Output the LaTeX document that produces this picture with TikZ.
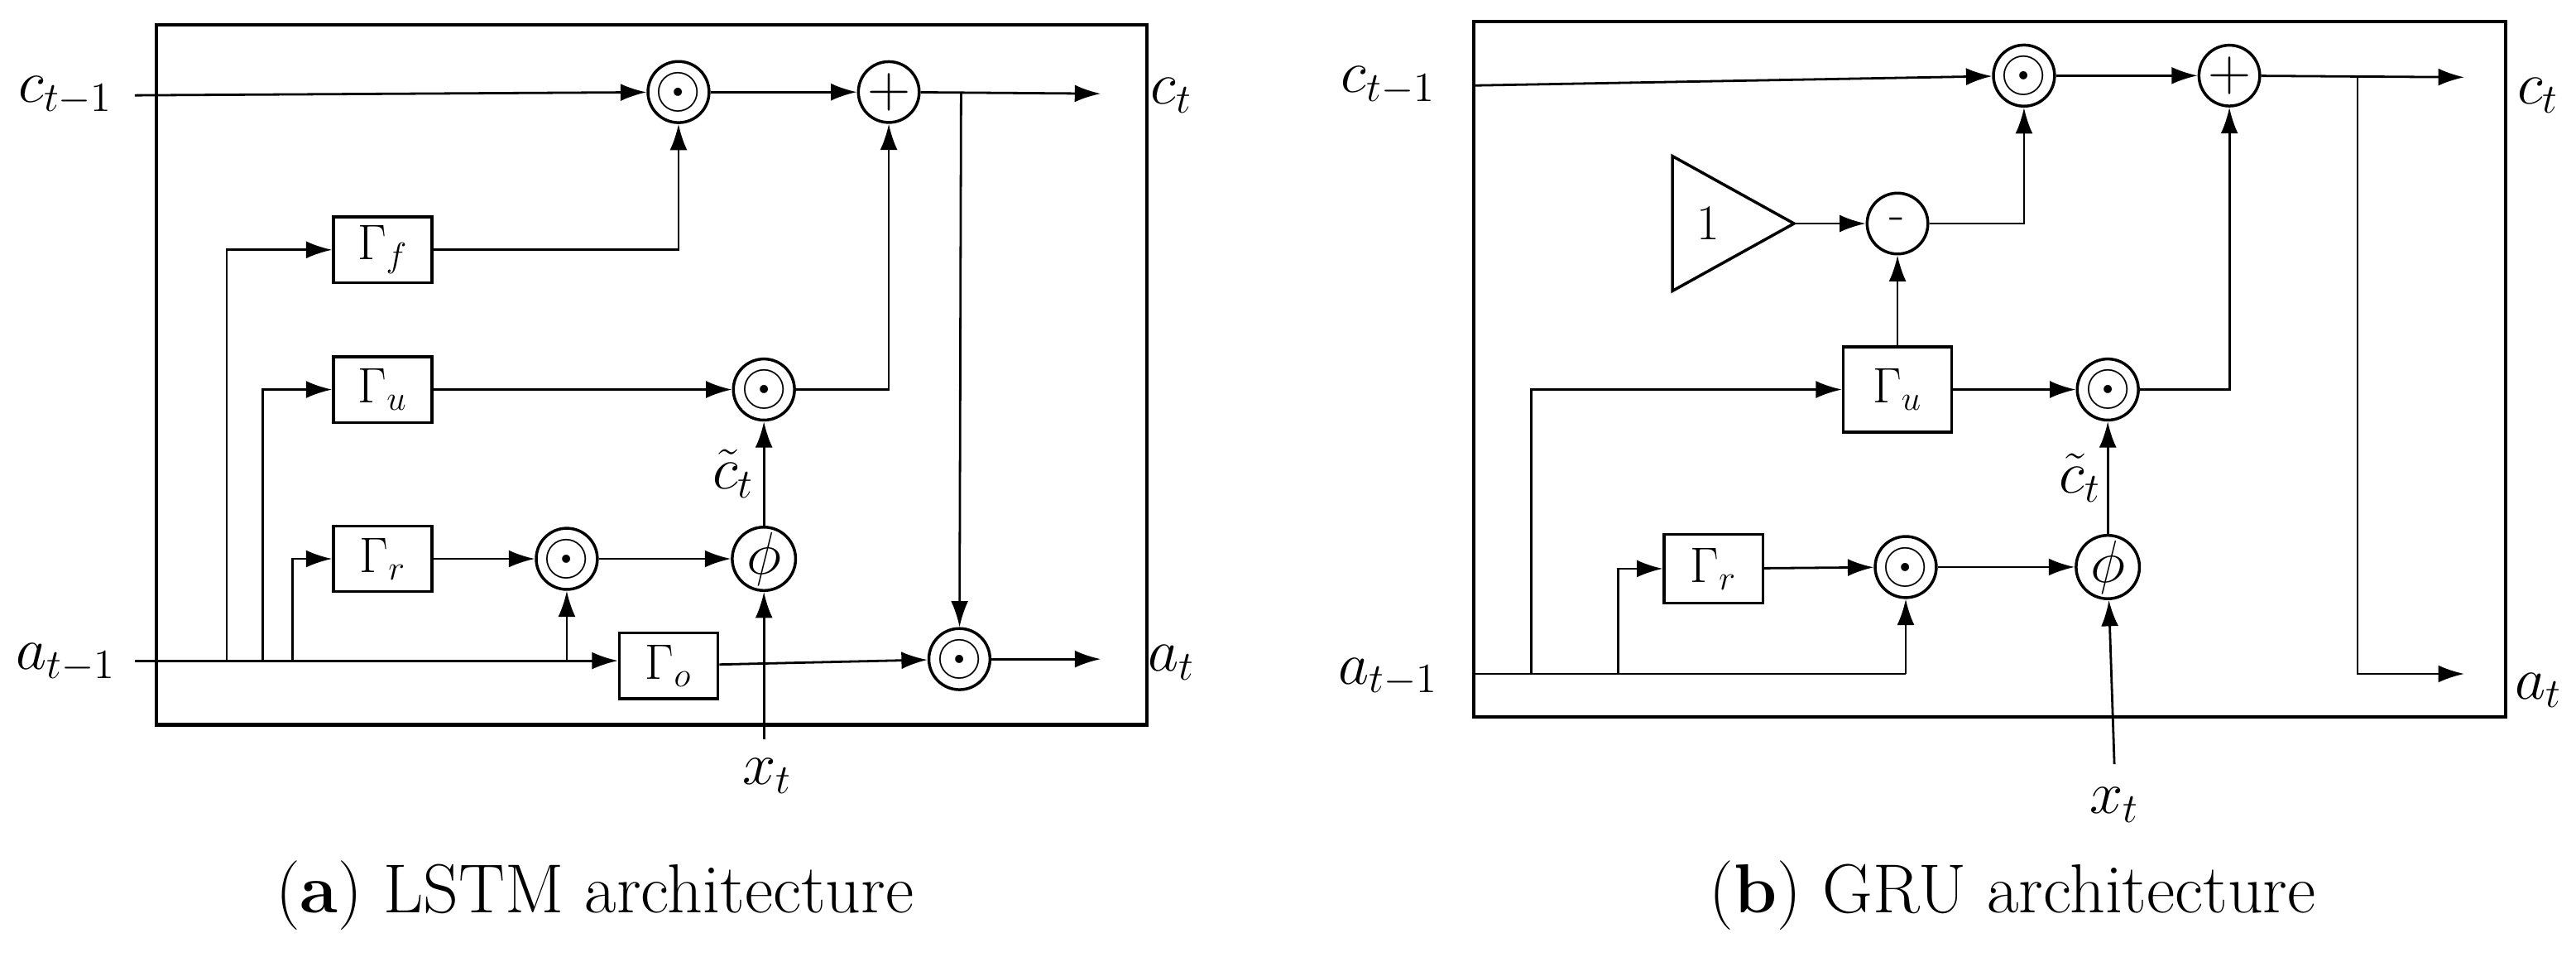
\documentclass[tikz,border=0pt]{standalone}
\usetikzlibrary{arrows.meta,shapes.geometric}
\begin{document}
\begin{tikzpicture}[x=0.02cm,y=-0.02cm,
  op/.style={circle,draw,line width=1pt,minimum size=37*0.02cm,inner sep=0pt,font=\huge},
  gate/.style={rectangle,draw,line width=1pt,minimum width=60*0.02cm,minimum height=40*0.02cm,inner sep=0pt,font=\LARGE},
  lab/.style={font=\huge},
  ln/.style={line width=0.8pt},
  ar/.style={line width=0.8pt,-{Latex[length=9pt,width=6pt]}},
  capt/.style={font=\fontsize{24}{28}\selectfont}]
\useasboundingbox (0,0) rectangle (1568,582);
% ---------- LSTM ----------
\draw[line width=1.2pt] (95,15) rectangle (698,441);
\node[lab] (lc0) at (40,58) {$c_{t-1}$};
\node[lab] (lc1) at (713,58) {$c_t$};
\node[lab] (la0) at (40,403) {$a_{t-1}$};
\node[lab] (la1) at (713,403) {$a_t$};
\node[lab] (lx) at (467,472) {$x_t$};
\node[op] (m1) at (413,56) {$\odot$};
\node[op] (p1) at (541,56) {$+$};
\node[op] (m2) at (465,237) {$\odot$};
\node[op] (m3) at (345,340) {$\odot$};
\node[op] (ph) at (465,340) {$\phi$};
\node[op] (m4) at (584,401) {$\odot$};
\node[gate] (gf) at (233,152) {$\Gamma_f$};
\node[gate] (gu) at (233,237) {$\Gamma_u$};
\node[gate] (gr) at (233,340) {$\Gamma_r$};
\node[gate] (go) at (407,405) {$\Gamma_o$};
\coordinate (ca) at (82,58);
\coordinate (cb) at (670,57);
\coordinate (aa) at (82,402);
\coordinate (ab) at (670,401);
\coordinate (xb) at (465,450);
\draw[ar] (ca) -- (m1);
\draw[ar] (m1) -- (p1);
\draw[ar] (p1) -- (cb);
\draw[ar] (585,56) -- (m4);
\draw[ln] (aa) -- (345,402);
\draw[ar] (345,402) -- (go.west|-345,402);
\draw[ar] (go) -- (m4);
\draw[ar] (m4) -- (ab);
\draw[ar] (138,402) |- (gf);
\draw[ar] (160,402) |- (gu);
\draw[ar] (178,402) |- (gr);
\draw[ar] (gf) -| (m1);
\draw[ar] (gu) -- (m2);
\draw[ar] (m2) -| (p1);
\draw[ar] (gr) -- (m3);
\draw[ar] (m3) -- (ph);
\draw[ar] (345,402) -- (m3);
\draw[ar] (ph) -- node[left,font=\huge,inner sep=3pt]{$\tilde c_t$} (m2);
\draw[ar] (xb) -- (ph);
\node[capt] at (362,545) {(\textbf{a}) LSTM architecture};
% ---------- GRU ----------
\draw[line width=1.2pt] (897,13) rectangle (1525,436);
\node[lab] (gc0) at (845,52) {$c_{t-1}$};
\node[lab] (gc1) at (1545,58) {$c_t$};
\node[lab] (ga0) at (845,412) {$a_{t-1}$};
\node[lab] (ga1) at (1545,420) {$a_t$};
\node[lab] (gx) at (1287,490) {$x_t$};
\node[op] (n1) at (1232,46) {$\odot$};
\node[op] (q1) at (1357,46) {$+$};
\node[op,font=\LARGE] (mi) at (1155,136) {-};
\node[op] (n2) at (1283,237) {$\odot$};
\node[op] (n3) at (1160,345) {$\odot$};
\node[op] (gph) at (1283,345) {$\phi$};
\node[gate,minimum width=66*0.02cm,minimum height=52*0.02cm] (hu) at (1155,237) {$\Gamma_u$};
\node[gate,minimum height=42*0.02cm] (hr) at (1043,346) {$\Gamma_r$};
\draw[line width=1pt] (1018,95) -- (1018,177) -- (1092,136) -- cycle;
\node[font=\LARGE] (one) at (1040,136) {1};
\coordinate (gca) at (898,52);
\coordinate (gcb) at (1500,47);
\coordinate (gaa) at (897,410);
\coordinate (gab) at (1500,410);
\coordinate (gxb) at (1287,465);
\draw[ar] (gca) -- (n1);
\draw[ar] (n1) -- (q1);
\draw[ar] (q1) -- (gcb);
\draw[ar] (1435,47) |- (gab);
\draw[ar] (1092,136) -- (mi);
\draw[ar] (mi) -| (n1);
\draw[ar] (hu) -- (mi);
\draw[ar] (hu) -- (n2);
\draw[ar] (n2) -| (q1);
\draw[ln] (gaa) -- (1160,410);
\draw[ar] (1160,410) -- (n3);
\draw[ar] (932,410) |- (hu);
\draw[ar] (985,410) |- (hr);
\draw[ar] (hr) -- (n3);
\draw[ar] (n3) -- (gph);
\draw[ar] (gph) -- node[left,font=\huge,inner sep=2pt]{$\tilde c_t$} (n2);
\draw[ar] (gxb) -- (gph);
\node[capt] at (1225,545) {(\textbf{b}) GRU architecture};
\end{tikzpicture}
\end{document}
